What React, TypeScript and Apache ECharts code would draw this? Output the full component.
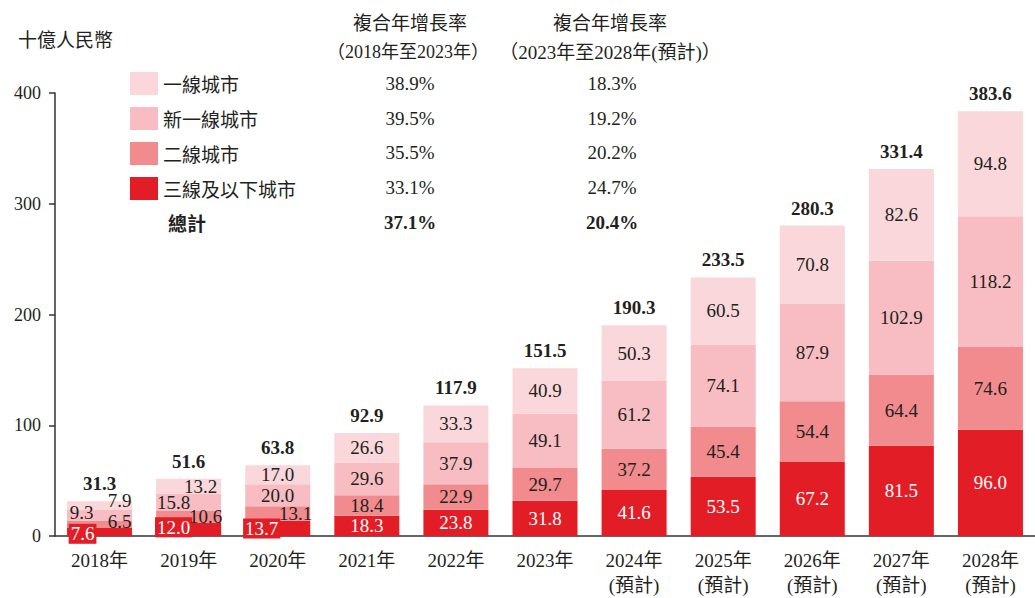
import React, { useEffect, useRef } from "react";
import * as echarts from "echarts";

const years = ["2018年", "2019年", "2020年", "2021年", "2022年", "2023年", "2024年\n(預計)", "2025年\n(預計)", "2026年\n(預計)", "2027年\n(預計)", "2028年\n(預計)"];
const tier3Below = [7.6, 12.0, 13.7, 18.3, 23.8, 31.8, 41.6, 53.5, 67.2, 81.5, 96.0];
const tier2 = [6.5, 10.6, 13.1, 18.4, 22.9, 29.7, 37.2, 45.4, 54.4, 64.4, 74.6];
const newTier1 = [9.3, 15.8, 20.0, 29.6, 37.9, 49.1, 61.2, 74.1, 87.9, 102.9, 118.2];
const tier1 = [7.9, 13.2, 17.0, 26.6, 33.3, 40.9, 50.3, 60.5, 70.8, 82.6, 94.8];
const totals = [31.3, 51.6, 63.8, 92.9, 117.9, 151.5, 190.3, 233.5, 280.3, 331.4, 383.6];

const seriesNames = ["一線城市", "新一線城市", "二線城市", "三線及以下城市"];
const cagrHist = ["38.9%", "39.5%", "35.5%", "33.1%"];
const cagrFcst = ["18.3%", "19.2%", "20.2%", "24.7%"];
const totalLabel = "總計";
const totalCagrHist = "37.1%";
const totalCagrFcst = "20.4%";
const headerTitle = "複合年增長率";
const headerHist = "（2018年至2023年）";
const headerFcst = "（2023年至2028年(預計)）";
const unitLabel = "十億人民幣";

const COLORS = {
  tier1: "#FAD7DB",
  newTier1: "#F7BDC3",
  tier2: "#F18B8D",
  tier3: "#E31D25",
};
const TEXT = "#231F20";
const SERIF = "'Liberation Serif', 'Noto Sans CJK TC', serif";
const CJK = "'Noto Sans CJK TC', 'Liberation Serif', sans-serif";

// label offsets for the crowded early bars (index -> [dx, dy])
const offsT3: Record<number, number[]> = { 0: [-17, 2], 1: [-15, -2], 2: [-16, 0] };
const offsT2: Record<number, number[]> = { 0: [20, -2], 1: [17, 0], 2: [18, 0] };
const offsN1: Record<number, number[]> = { 0: [-18, -3], 1: [-15, 0] };
const offsT1: Record<number, number[]> = { 0: [20, -5], 1: [12, 0] };

function withOffsets(values: number[], offs: Record<number, number[]>, bg?: string) {
  return values.map((v, i) => {
    const o = offs[i];
    if (!o) return v;
    const label: any = { offset: o };
    if (bg) {
      label.backgroundColor = bg;
      label.padding = [1, 2, 0, 2];
    }
    return { value: v, label };
  });
}

export default function App() {
  const ref = useRef<HTMLDivElement>(null);
  useEffect(() => {
    document.body.style.margin = "0";
    if (!ref.current) return;
    const chart = echarts.init(ref.current, null, { renderer: "svg" });
    const barW = 65;
    const segLabel = (color: string) => ({
      show: true,
      position: "inside",
      color,
      fontFamily: SERIF,
      fontSize: 19,
      formatter: (p: any) => Number(p.value).toFixed(1),
    });
    const rowY = [83, 118, 152, 187];
    const graphics: any[] = [
      { type: "text", left: 18, top: 29, style: { text: unitLabel, font: `19px ${CJK}`, fill: TEXT } },
      { type: "text", x: 410, y: 21, style: { text: headerTitle, font: `19px ${CJK}`, fill: TEXT, textAlign: "center", textVerticalAlign: "middle" } },
      { type: "text", x: 408, y: 52, style: { text: headerHist, font: `18px ${SERIF}`, fill: TEXT, textAlign: "center", textVerticalAlign: "middle" } },
      { type: "text", x: 610, y: 21, style: { text: headerTitle, font: `19px ${CJK}`, fill: TEXT, textAlign: "center", textVerticalAlign: "middle" } },
      { type: "text", x: 610, y: 52, style: { text: headerFcst, font: `19px ${SERIF}`, fill: TEXT, textAlign: "center", textVerticalAlign: "middle" } },
      { type: "text", x: 168, y: 222, style: { text: totalLabel, font: `bold 19px ${CJK}`, fill: TEXT, textVerticalAlign: "middle" } },
      { type: "text", x: 410, y: 222, style: { text: totalCagrHist, font: `bold 19px ${SERIF}`, fill: TEXT, textAlign: "center", textVerticalAlign: "middle" } },
      { type: "text", x: 612, y: 222, style: { text: totalCagrFcst, font: `bold 19px ${SERIF}`, fill: TEXT, textAlign: "center", textVerticalAlign: "middle" } },
    ];
    cagrHist.forEach((t, i) => {
      graphics.push({ type: "text", x: 410, y: rowY[i], style: { text: t, font: `19px ${SERIF}`, fill: TEXT, textAlign: "center", textVerticalAlign: "middle" } });
    });
    cagrFcst.forEach((t, i) => {
      graphics.push({ type: "text", x: 612, y: rowY[i], style: { text: t, font: `19px ${SERIF}`, fill: TEXT, textAlign: "center", textVerticalAlign: "middle" } });
    });

    chart.setOption({
      animation: false,
      backgroundColor: "#ffffff",
      grid: { left: 55, top: 93, bottom: 61, width: 990, containLabel: false },
      legend: {
        orient: "vertical",
        left: 130,
        top: 72,
        padding: 0,
        itemWidth: 28,
        itemHeight: 23,
        itemGap: 12,
        icon: "rect",
        selectedMode: false,
        data: seriesNames,
        textStyle: { fontFamily: CJK, fontSize: 19, color: TEXT },
      },
      xAxis: {
        type: "category",
        data: years,
        axisLine: { lineStyle: { color: "#333333", width: 1.5 } },
        axisTick: { show: false },
        axisLabel: { color: TEXT, fontFamily: SERIF, fontSize: 19, lineHeight: 25, margin: 12, interval: 0 },
      },
      yAxis: {
        type: "value",
        min: 0,
        max: 400,
        interval: 100,
        splitLine: { show: false },
        axisLine: { show: true, lineStyle: { color: "#333333", width: 1.5 } },
        axisTick: { show: true, inside: false, length: 6, lineStyle: { color: "#333333", width: 1.5 } },
        axisLabel: { color: TEXT, fontFamily: SERIF, fontSize: 18, margin: 14 },
      },
      series: [
        {
          name: seriesNames[3],
          type: "bar",
          stack: "t",
          barWidth: barW,
          itemStyle: { color: COLORS.tier3 },
          label: segLabel("#ffffff"),
          data: withOffsets(tier3Below, offsT3, COLORS.tier3),
        },
        {
          name: seriesNames[2],
          type: "bar",
          stack: "t",
          barWidth: barW,
          itemStyle: { color: COLORS.tier2 },
          label: segLabel(TEXT),
          data: withOffsets(tier2, offsT2),
        },
        {
          name: seriesNames[1],
          type: "bar",
          stack: "t",
          barWidth: barW,
          itemStyle: { color: COLORS.newTier1 },
          label: segLabel(TEXT),
          data: withOffsets(newTier1, offsN1),
        },
        {
          name: seriesNames[0],
          type: "bar",
          stack: "t",
          barWidth: barW,
          itemStyle: { color: COLORS.tier1 },
          label: segLabel(TEXT),
          data: withOffsets(tier1, offsT1),
        },
        {
          name: "total",
          type: "bar",
          stack: "t",
          barWidth: barW,
          itemStyle: { color: "transparent" },
          label: {
            show: true,
            position: "top",
            distance: 8,
            color: TEXT,
            fontFamily: SERIF,
            fontWeight: "bold",
            fontSize: 19,
            formatter: (p: any) => totals[p.dataIndex].toFixed(1),
          },
          data: totals.map(() => 0),
        },
      ],
      graphic: graphics,
    });
    return () => chart.dispose();
  }, []);
  return <div ref={ref} style={{ width: 1035, height: 598 }} />;
}
